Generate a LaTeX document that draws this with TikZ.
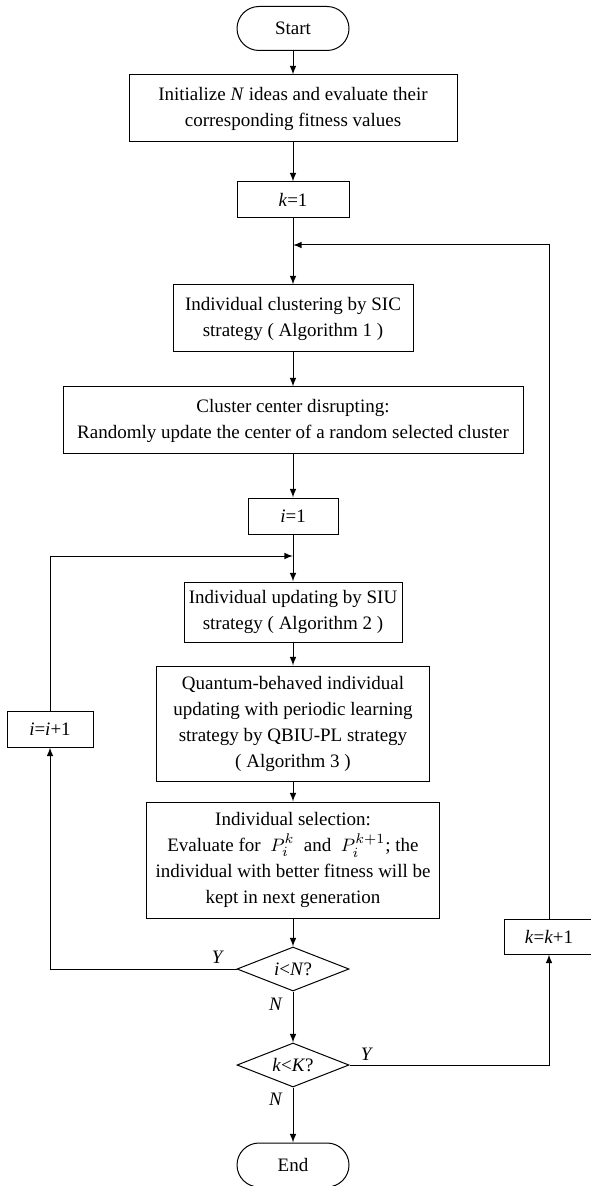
\documentclass[tikz,border=0pt]{standalone}
\usepackage{fontspec}
\setmainfont{Liberation Serif}
\usetikzlibrary{shapes.geometric, arrows}

\begin{document}
\begin{tikzpicture}
	[   x=0.5pt, y=-0.5pt, line width=0.5pt,
	    every node/.style={font=\fontsize{9.5}{13}\selectfont},
	    pbox/.style 2 args={draw=black, align=center, inner xsep=1pt, inner ysep=1pt, minimum width=#1, minimum height=#2},
	    tnode/.style={draw=black, rounded corners=11pt, minimum width=56pt, minimum height=22pt},
	    dnode/.style={draw=black, diamond, aspect=2.5, inner sep=0pt, minimum width=56pt, minimum height=22pt},
	    lbl/.style={inner sep=0pt},
	]
	\tikzset{normal arrow/.style={draw,-latex}}
	\useasboundingbox (0,0) rectangle (590,1186);
	
	% main column
	\node[tnode] (start) at (293,28.5) {Start};
	\node[pbox={164pt}{33.5pt}] (init) at (293,108.5) {Initialize \textit{N} ideas and evaluate their\\corresponding fitness values};
	\node[pbox={56pt}{18pt}] (k1) at (293,200) {\textit{k}=1};
	\node[pbox={120pt}{33.5pt}] (clus) at (293,318.5) {Individual clustering by SIC\\strategy ( Algorithm 1 )};
	\node[pbox={230pt}{33.5pt}] (disr) at (293,420.5) {Cluster center disrupting:\\Randomly update the center of a random selected cluster};
	\node[pbox={45pt}{18pt}] (i1) at (293,516) {\textit{i}=1};
	\node[pbox={109pt}{30pt}] (siu) at (293,612) {Individual updating by SIU\\strategy ( Algorithm 2 )};
	\node[pbox={136.5pt}{57.5pt}] (qbiu) at (293,723.5) {Quantum-behaved individual\\updating with periodic learning\\strategy by QBIU-PL strategy\\( Algorithm 3 )};
	\node[pbox={146.5pt}{58pt}] (sel) at (293,860) {Individual selection:\\Evaluate for~ $P_i^k$ ~and~ $P_i^{k+1}$; the\\individual with better fitness will be\\kept in next generation};
	\node[dnode] (d-i) at (293,969) {\textit{i}<\textit{N}?};
	\node[dnode] (d-k) at (293,1065) {\textit{k}<\textit{K}?};
	\node[tnode] (end) at (293,1165) {End};
	
	% loop boxes
	\node[pbox={43pt}{18pt}] (ii) at (50,729) {\textit{i}=\textit{i}+1};
	\node[pbox={45pt}{17.5pt}] (kk) at (549,936.5) {\textit{k}=\textit{k}+1};
	
	\coordinate (mk) at (293,245);
	\coordinate (mi) at (293,556);
	
	\path[normal arrow] (start) -- (init);
	\path[normal arrow] (init) -- (k1);
	\path[normal arrow] (k1) -- (clus);
	\path[normal arrow] (clus) -- (disr);
	\path[normal arrow] (disr) -- (i1);
	\path[normal arrow] (i1) -- (siu);
	\path[normal arrow] (siu) -- (qbiu);
	\path[normal arrow] (qbiu) -- (sel);
	\path[normal arrow] (sel) -- (d-i);
	\path[normal arrow] (d-i) -- (d-k);
	\path[normal arrow] (d-k) -- (end);
	
	\path[normal arrow] (d-i.west) -| (ii.south);
	\path[normal arrow] (ii.north) |- (mi);
	\path[normal arrow] (d-k.east) -| (kk.south);
	\path[normal arrow] (kk.north) |- (mk);
	
	\node[lbl] (y-i) at (218,957) {\textit{Y}};
	\node[lbl] (n-i) at (276,1004) {\textit{N}};
	\node[lbl] (y-k) at (367,1054) {\textit{Y}};
	\node[lbl] (n-k) at (276,1099) {\textit{N}};
	
\end{tikzpicture}
\end{document}
